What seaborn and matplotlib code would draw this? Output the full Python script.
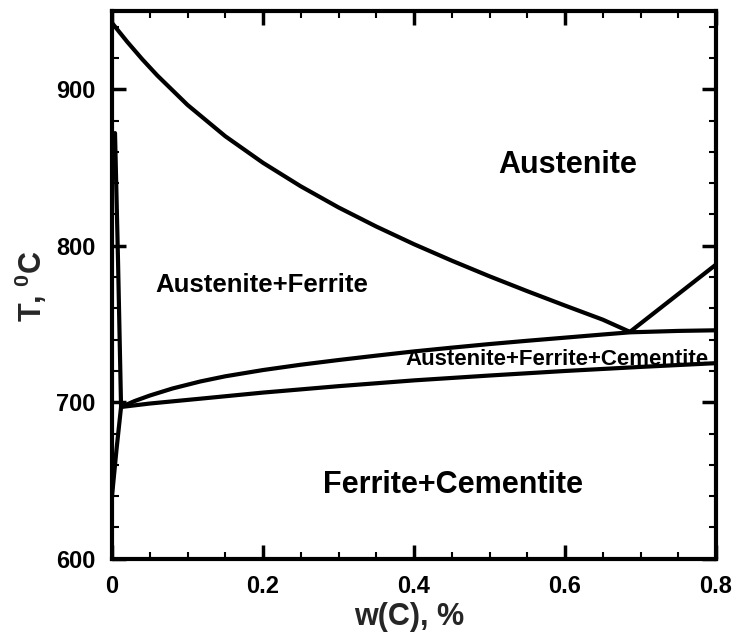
import matplotlib
matplotlib.use("Agg")
import matplotlib.pyplot as plt
from matplotlib.ticker import MultipleLocator
import seaborn as sns
import pandas as pd

# Fe–C diagram near the eutectoid point: phase boundaries (w(C) in %, T in °C)
a3_wc = [0.0, 0.02, 0.04, 0.06, 0.1, 0.15, 0.2, 0.25, 0.3, 0.35, 0.4,
         0.45, 0.5, 0.55, 0.6, 0.65, 0.686]
a3_t = [942.4, 930.4, 919.2, 908.8, 890.0, 870.0, 853.0, 838.0, 824.5,
        812.3, 801.0, 790.5, 780.5, 771.0, 761.8, 752.8, 745.0]

acm_wc = [0.686, 0.8]
acm_t = [745.0, 788.0]

upper_3ph_wc = [0.012, 0.03, 0.05, 0.08, 0.117, 0.15, 0.2, 0.25, 0.3, 0.35,
                0.4, 0.45, 0.5, 0.55, 0.6, 0.65, 0.686, 0.75, 0.8]
upper_3ph_t = [697.0, 700.8, 704.3, 708.8, 713.3, 716.6, 720.6, 724.0, 727.0,
               729.8, 732.5, 734.9, 737.2, 739.3, 741.3, 743.3, 744.7, 745.6,
               746.0]

lower_3ph_wc = [0.012, 0.05, 0.117, 0.2, 0.249, 0.3, 0.4, 0.5, 0.6, 0.7, 0.8]
lower_3ph_t = [697.0, 699.2, 702.3, 706.2, 708.2, 710.3, 714.0, 717.1, 720.0,
               722.6, 725.0]

ferrite_wc = [0.004, 0.008, 0.012, 0.006, 0.0]
ferrite_t = [872.0, 790.0, 697.0, 670.0, 640.0]

x_ticks = [0.0, 0.2, 0.4, 0.6, 0.8]
x_tick_labels = ["0", "0.2", "0.4", "0.6", "0.8"]
y_ticks = [600, 700, 800, 900]
y_tick_labels = ["600", "700", "800", "900"]

region_names = ["Austenite", "Austenite+Ferrite",
                "Austenite+Ferrite+Cementite", "Ferrite+Cementite"]
region_wc = [0.603, 0.199, 0.589, 0.452]
region_t = [851.6, 775.0, 727.5, 647.2]
region_size = [22, 18.5, 16, 22]

sns.set_style("ticks")
plt.rcParams["font.family"] = ["Liberation Sans", "DejaVu Sans"]
plt.rcParams["font.weight"] = "bold"
plt.rcParams["mathtext.fontset"] = "custom"
plt.rcParams["mathtext.rm"] = "Liberation Sans:bold"
plt.rcParams["mathtext.bf"] = "Liberation Sans:bold"
plt.rcParams["mathtext.it"] = "Liberation Sans:bold"

fig = plt.figure(figsize=(7.36, 6.37), dpi=100)
ax = fig.add_axes([112 / 736, 1 - 558.8 / 637, (716 - 112) / 736, (558.8 - 11) / 637])

curves = [
    (a3_wc, a3_t),
    (acm_wc, acm_t),
    (upper_3ph_wc, upper_3ph_t),
    (lower_3ph_wc, lower_3ph_t),
    (ferrite_wc, ferrite_t),
]
for wc, t in curves:
    df = pd.DataFrame({"wc": wc, "T": t})
    sns.lineplot(data=df, x="wc", y="T", ax=ax, color="black", linewidth=3.0,
                 sort=False, estimator=None)

for name, xw, yt, fs in zip(region_names, region_wc, region_t, region_size):
    ax.text(xw, yt, name, ha="center", va="center", fontsize=fs,
            fontweight="bold", color="black")

ax.set_xlim(0, 0.8)
ax.set_ylim(600, 950)
ax.set_xticks(x_ticks)
ax.set_xticklabels(x_tick_labels)
ax.set_yticks(y_ticks)
ax.set_yticklabels(y_tick_labels)
ax.xaxis.set_minor_locator(MultipleLocator(0.05))
ax.yaxis.set_minor_locator(MultipleLocator(20))

ax.tick_params(which="both", direction="in", top=True, right=True,
               colors="black")
ax.tick_params(which="major", length=10, width=2.5, labelsize=17, pad=12)
ax.tick_params(which="minor", length=5, width=1.5)
for lab in ax.get_xticklabels() + ax.get_yticklabels():
    lab.set_fontweight("bold")

for side in ["left", "right", "top", "bottom"]:
    ax.spines[side].set_visible(True)
    ax.spines[side].set_linewidth(3.0)
    ax.spines[side].set_color("black")

ax.set_xlabel("w(C), %", fontsize=22, fontweight="bold")
ax.set_ylabel(r"T, $^{0}$C", fontsize=22, fontweight="bold")
ax.xaxis.set_label_coords(0.492, -0.079)
ax.yaxis.set_label_coords(-0.105, 0.498)

fig.savefig("out.png", dpi=100, facecolor="white")
